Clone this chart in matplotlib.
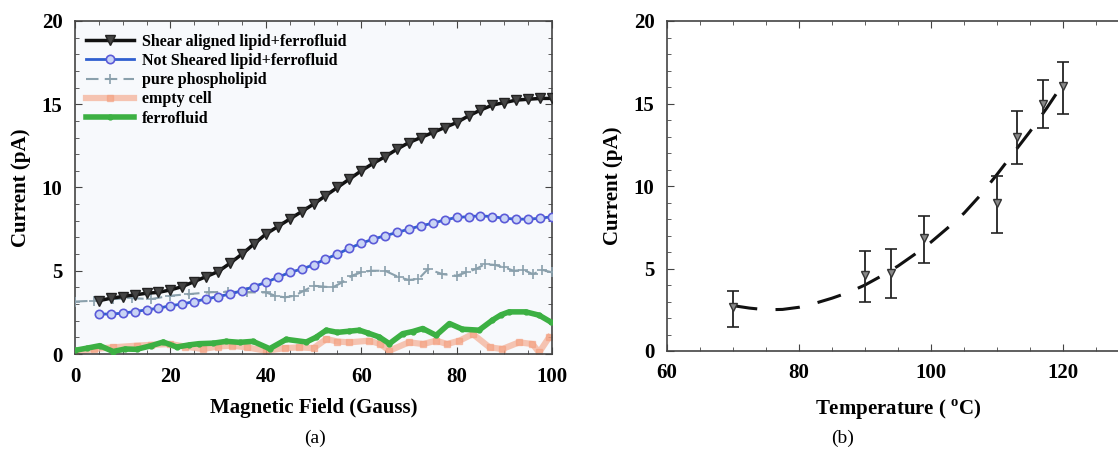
import matplotlib
matplotlib.use("Agg")
import matplotlib.pyplot as plt
import numpy as np

plt.rcParams['font.family'] = ['Liberation Serif', 'DejaVu Serif']

# (a) current vs magnetic field
field_shear = [5, 7.5, 10, 12.5, 15, 17.5, 20, 22.5, 25, 27.5, 30, 32.5, 35, 37.5, 40, 42.5,
               45, 47.5, 50, 52.5, 55, 57.5, 60, 62.5, 65, 67.5, 70, 72.5, 75, 77.5, 80, 82.5,
               85, 87.5, 90, 92.5, 95, 97.5, 100]
shear = [3.2, 3.35, 3.45, 3.55, 3.65, 3.7, 3.85, 4.05, 4.35, 4.65, 4.95, 5.45, 6.0, 6.6, 7.2, 7.65,
         8.1, 8.55, 9.0, 9.5, 10.0, 10.5, 11.0, 11.45, 11.85, 12.3, 12.7, 13.0, 13.3, 13.6, 13.9, 14.3,
         14.65, 14.95, 15.1, 15.25, 15.3, 15.35, 15.35]
not_sheared = [2.4, 2.4, 2.45, 2.55, 2.65, 2.75, 2.9, 3.0, 3.15, 3.3, 3.45, 3.6, 3.8, 4.05, 4.3, 4.6,
               4.9, 5.1, 5.35, 5.7, 6.0, 6.35, 6.65, 6.9, 7.1, 7.3, 7.5, 7.7, 7.85, 8.05, 8.2, 8.25,
               8.3, 8.25, 8.15, 8.1, 8.1, 8.15, 8.25]

field_lipid = [0, 4, 8, 12, 16, 20, 24, 28, 32, 36, 40, 42, 44, 46, 48, 50, 52, 54, 56, 58,
               60, 62, 65, 68, 70, 72, 74, 77, 80, 82, 84, 86, 88, 90, 92, 94, 96, 98, 100]
lipid = [3.15, 3.2, 3.3, 3.35, 3.3, 3.5, 3.6, 3.7, 3.75, 3.7, 3.7, 3.5, 3.4, 3.5, 3.8, 4.1, 4.05, 4.0, 4.3, 4.7,
         4.9, 5.0, 5.0, 4.6, 4.45, 4.5, 5.1, 4.8, 4.7, 4.9, 5.1, 5.4, 5.35, 5.2, 5.0, 5.05, 4.8, 5.05, 4.9]

field_empty = [0, 4, 8, 12.9, 16, 19.9, 23, 26.8, 30, 33, 36, 40, 44, 47, 50, 52.7, 55, 57.5, 61.7, 64, 65.9,
               70, 73, 75.7, 78, 80.6, 83.4, 86.9, 89.6, 93.1, 95.9, 97.3, 99.4]
empty = [0.12, 0.3, 0.4, 0.5, 0.55, 0.6, 0.45, 0.3, 0.45, 0.5, 0.4, 0.2, 0.35, 0.4, 0.35, 0.9, 0.75, 0.7, 0.8, 0.6, 0.2,
         0.7, 0.6, 0.8, 0.6, 0.8, 1.2, 0.4, 0.3, 0.7, 0.6, 0.1, 1.0]

field_ferro = [0, 2.5, 5.2, 8, 10.5, 12.9, 16, 18.5, 21.3, 24, 26, 29, 31.7, 34.5, 37.3, 40.8, 44.3, 48.5, 50.5,
               52.7, 55, 57.5, 59.6, 61.5, 63.8, 65.9, 68.7, 70.8, 72.9, 75.7, 78.5, 81.2, 84.7, 87.5, 89.3,
               91, 94.5, 97.3, 99.7]
ferro = [0.22, 0.35, 0.5, 0.15, 0.3, 0.28, 0.5, 0.72, 0.42, 0.55, 0.62, 0.65, 0.76, 0.7, 0.76, 0.32, 0.88, 0.72, 1.0,
         1.43, 1.3, 1.37, 1.43, 1.25, 1.02, 0.62, 1.22, 1.35, 1.53, 1.12, 1.83, 1.49, 1.43, 2.03, 2.35,
         2.53, 2.53, 2.33, 1.93]

# (b) current vs temperature
temp = [70, 90, 94, 99, 110, 113, 117, 120]
current = [2.66, 4.58, 4.72, 6.85, 9.0, 13.0, 15.0, 16.07]
err_up = [1.0, 1.47, 1.47, 1.32, 1.6, 1.56, 1.43, 1.47]
err_dn = [1.2, 1.62, 1.52, 1.51, 1.84, 1.67, 1.51, 1.72]

fit_t = [70, 72.5, 75, 77.5, 80, 82.5, 85, 87.5, 90, 92.5, 95, 97.5, 100, 102.5, 105, 107.5,
         110, 112.5, 115, 117.5, 120]
fit_i = [2.75, 2.6, 2.5, 2.52, 2.65, 2.9, 3.2, 3.55, 4.0, 4.55, 5.15, 5.85, 6.6, 7.45, 8.35, 9.45,
         10.7, 12.0, 13.3, 14.7, 16.2]

fig = plt.figure(figsize=(11.18, 4.54), dpi=100)
ax1 = fig.add_axes([75 / 1118, 100 / 454, 477 / 1118, 333 / 454])
ax2 = fig.add_axes([667 / 1118, 103 / 454, 462 / 1118, 330 / 454])

ax1.set_facecolor('#f7f9fc')
ax1.plot(field_empty, empty, color='#f4a080', lw=4.5, alpha=0.6, marker='s', ms=5,
         mfc='#f4a080', mec='#f4a080', label='empty cell', zorder=2)
ax1.plot(field_ferro, ferro, color='#3cb043', lw=4, marker='o', ms=3.5, mec='#3cb043',
         label='ferrofluid', zorder=3)
ax1.plot(field_lipid, lipid, color='#8aa0ac', lw=1.5, ls=(0, (6, 3)), marker='+', ms=7, mew=1.2,
         label='pure phospholipid', zorder=3)
ax1.plot(field_shear, not_sheared, color='#2f5fd0', lw=2, marker='o', ms=6, mfc='#c9d4f5',
         mec='#5a5ad8', mew=1.2, label='Not Sheared lipid+ferrofluid', zorder=4)
ax1.plot(field_shear, shear, color='#111111', lw=2.5, marker='v', ms=7, mfc='#444444',
         mec='#222222', label='Shear aligned lipid+ferrofluid', zorder=5)

h, l = ax1.get_legend_handles_labels()
order = [4, 3, 2, 0, 1]
ax1.legend([h[i] for i in order], [l[i] for i in order], loc='upper left', frameon=False,
           prop={'weight': 'bold', 'size': 11.5}, handlelength=3.0, labelspacing=0.2,
           borderaxespad=0.3, handletextpad=0.5, bbox_to_anchor=(0.0, 0.995))

ax1.set_xlim(0, 100)
ax1.set_ylim(0, 20)
ax1.set_xticks([0, 20, 40, 60, 80, 100])
ax1.set_yticks([0, 5, 10, 15, 20])
ax1.set_xlabel('Magnetic Field (Gauss)', fontsize=15, fontweight='bold', labelpad=8)
ax1.set_ylabel('Current (pA)', fontsize=15, fontweight='bold', labelpad=8)

ax2.plot(fit_t, fit_i, color='#111111', lw=2.2, dashes=(8, 6), zorder=2)
ax2.errorbar(temp, current, yerr=[err_dn, err_up], fmt='v', ms=6, color='#555555',
             mfc='#888888', mec='#333333', ecolor='#222222', elinewidth=1.3, capsize=4,
             capthick=1.2, zorder=3)
ax2.set_xlim(60, 130)
ax2.set_ylim(0, 20)
ax2.set_xticks([60, 80, 100, 120])
ax2.set_yticks([0, 5, 10, 15, 20])
ax2.set_xlabel('Temperature ( $^\\mathregular{o}$C)', fontsize=15, fontweight='bold', labelpad=10)
ax2.set_ylabel('Current (pA)', fontsize=15, fontweight='bold', labelpad=8)

for ax in (ax1, ax2):
    ax.tick_params(which='both', direction='in', top=True, right=True, color='#444444')
    ax.tick_params(which='major', length=5, labelsize=15, pad=9)
    ax.tick_params(which='minor', length=3)
    for lab in ax.get_xticklabels() + ax.get_yticklabels():
        lab.set_fontweight('bold')
    for s in ax.spines.values():
        s.set_color('#444444')
        s.set_linewidth(1.2)
    ax.xaxis.set_minor_locator(matplotlib.ticker.MultipleLocator(5))
    ax.yaxis.set_minor_locator(matplotlib.ticker.MultipleLocator(1))

fig.text(315 / 1118, 1 - 438 / 454, '(a)', fontsize=14, ha='center', va='center')
fig.text(843 / 1118, 1 - 438 / 454, '(b)', fontsize=14, ha='center', va='center')

fig.savefig('out.png', dpi=100)
